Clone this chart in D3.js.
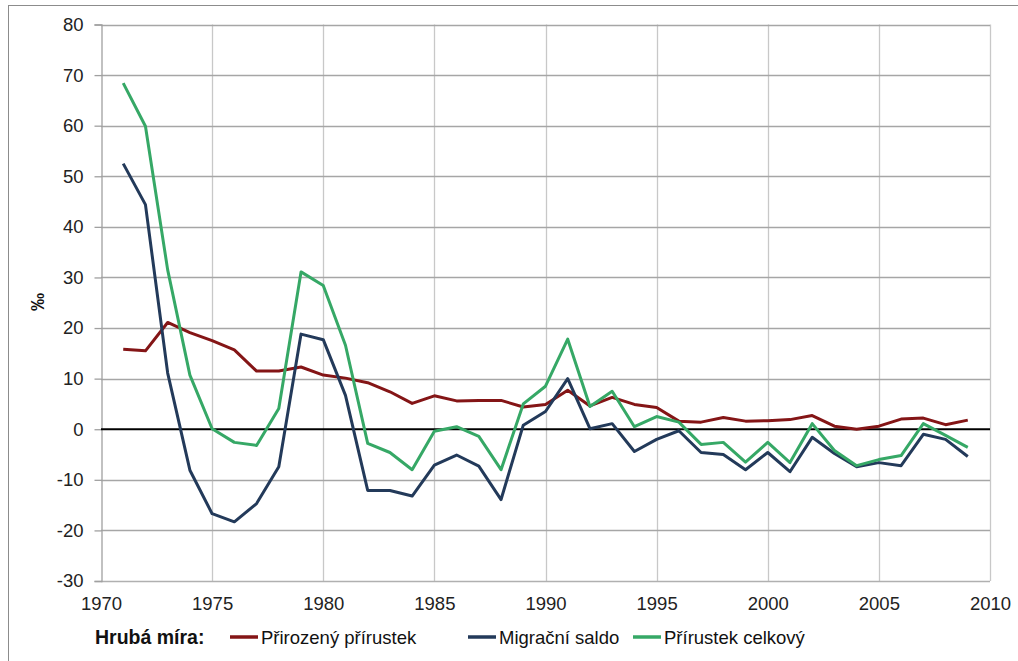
<!DOCTYPE html>
<html>
<head>
<meta charset="utf-8">
<script src="https://cdn.jsdelivr.net/npm/d3@7"></script>
<style>
  html, body { margin: 0; padding: 0; background: #fff; }
  svg { display: block; }
  text { font-family: "Liberation Sans", Arial, sans-serif; }
</style>
</head>
<body>
<svg id="chart" width="1018" height="661"></svg>
<script>
const years = [1971,1972,1973,1974,1975,1976,1977,1978,1979,1980,1981,1982,1983,1984,1985,1986,1987,1988,1989,1990,1991,1992,1993,1994,1995,1996,1997,1998,1999,2000,2001,2002,2003,2004,2005,2006,2007,2008,2009];
const natural = [15.8,15.5,21.1,19.1,17.5,15.7,11.5,11.5,12.3,10.7,10.1,9.2,7.4,5.1,6.6,5.6,5.7,5.7,4.4,4.9,7.7,4.6,6.3,4.9,4.3,1.6,1.4,2.3,1.6,1.7,1.9,2.7,0.6,0.0,0.6,2.0,2.2,0.9,1.8];
const migration = [52.5,44.4,11.1,-8.1,-16.7,-18.3,-14.7,-7.4,18.8,17.7,6.7,-12.1,-12.1,-13.2,-7.1,-5.1,-7.3,-13.9,0.8,3.5,10.0,0.1,1.1,-4.4,-2.0,-0.3,-4.6,-5.0,-8.0,-4.6,-8.4,-1.6,-4.8,-7.4,-6.6,-7.2,-1.0,-2.0,-5.4];
const total = [68.4,59.9,31.5,10.7,0.1,-2.6,-3.2,4.1,31.1,28.4,16.6,-2.8,-4.6,-8.0,-0.4,0.5,-1.4,-8.0,5.0,8.5,17.8,4.5,7.5,0.5,2.5,1.4,-3.0,-2.6,-6.5,-2.6,-6.6,1.1,-4.2,-7.2,-6.0,-5.2,1.1,-1.2,-3.6];
const xTicks = [1970,1975,1980,1985,1990,1995,2000,2005,2010];
const yTicks = [-30,-20,-10,0,10,20,30,40,50,60,70,80];
const seriesNames = ["Přirozený přírustek","Migrační saldo","Přírustek celkový"];
const seriesColors = ["#841516","#233A5A","#36A866"];
const legendTitle = "Hrubá míra:";
const yLabel = "‰";

const svg = d3.select("#chart");
const x = d3.scaleLinear().domain([1970, 2010]).range([101, 990]);
const y = d3.scaleLinear().domain([-30, 80]).range([581, 24.5]);

// outer frame (left + top visible)
svg.append("rect").attr("x", 8.5).attr("y", 5.5).attr("width", 1100).attr("height", 800)
  .attr("fill", "none").attr("stroke", "#8c8c8c").attr("stroke-width", 1);

// vertical gridlines
svg.append("g").selectAll("line").data(xTicks.slice(1)).join("line")
  .attr("x1", d => Math.round(x(d)) + 0.5).attr("x2", d => Math.round(x(d)) + 0.5)
  .attr("y1", y(80)).attr("y2", y(-30))
  .attr("stroke", "#c8c8c8").attr("stroke-width", 1.3);

// horizontal gridlines
svg.append("g").selectAll("line").data(yTicks.filter(d => d !== -30 && d !== 0)).join("line")
  .attr("x1", x(1970)).attr("x2", x(2010))
  .attr("y1", d => Math.round(y(d)) + 0.5).attr("y2", d => Math.round(y(d)) + 0.5)
  .attr("stroke", "#a6a6a6").attr("stroke-width", 1.3);

// bottom axis line
svg.append("line").attr("x1", x(1970)).attr("x2", x(2010))
  .attr("y1", Math.round(y(-30)) + 0.5).attr("y2", Math.round(y(-30)) + 0.5)
  .attr("stroke", "#b0b0b0").attr("stroke-width", 1.3);

const fmt = d => String(d);

// y axis with ticks
const yAxis = d3.axisLeft(y).tickValues(yTicks).tickSize(7).tickPadding(11).tickFormat(fmt);
const ya = svg.append("g").attr("transform", `translate(${Math.round(x(1970)) + 0.5},0)`).call(yAxis);
ya.select(".domain").attr("stroke", "#a0a0a0").attr("stroke-width", 1.3);
ya.selectAll(".tick line").attr("stroke", "#a0a0a0").attr("stroke-width", 1.3);
ya.selectAll(".tick text").attr("font-size", 18.5).attr("fill", "#222")
  .attr("font-family", "Liberation Sans, Arial, sans-serif");

// x axis labels
const xAxis = d3.axisBottom(x).tickValues(xTicks).tickSize(0).tickPadding(16).tickFormat(fmt);
const xa = svg.append("g").attr("transform", `translate(0,${y(-30)})`).call(xAxis);
xa.select(".domain").remove();
xa.selectAll(".tick text").attr("font-size", 18.5).attr("fill", "#222")
  .attr("font-family", "Liberation Sans, Arial, sans-serif");

// zero line
svg.append("line").attr("x1", x(1970)).attr("x2", x(2010))
  .attr("y1", y(0)).attr("y2", y(0)).attr("stroke", "#000").attr("stroke-width", 2);

// y label
svg.append("text").attr("transform", `translate(44,302) rotate(-90)`)
  .attr("text-anchor", "middle").attr("font-size", 18).attr("font-weight", "bold")
  .attr("fill", "#111").text(yLabel);

// series
const allSeries = [natural, migration, total];
const line = d3.line().x((d, i) => x(years[i])).y(d => y(d));
allSeries.forEach((s, k) => {
  svg.append("path").datum(s).attr("d", line).attr("fill", "none")
    .attr("stroke", seriesColors[k]).attr("stroke-width", 3)
    .attr("stroke-linejoin", "round");
});

// legend
const lg = svg.append("g");
const ly = 644;
lg.append("text").attr("x", 95).attr("y", ly).attr("font-size", 19.5)
  .attr("font-weight", "bold").attr("fill", "#111").text(legendTitle);
const markerStarts = [230, 468, 633];
seriesNames.forEach((n, k) => {
  const cx = markerStarts[k];
  lg.append("line").attr("x1", cx).attr("x2", cx + 28).attr("y1", ly - 7).attr("y2", ly - 7)
    .attr("stroke", seriesColors[k]).attr("stroke-width", 3.5);
  lg.append("text").attr("x", cx + 31).attr("y", ly).attr("font-size", 18.5)
    .attr("fill", "#111").text(n);
});
</script>
</body>
</html>
